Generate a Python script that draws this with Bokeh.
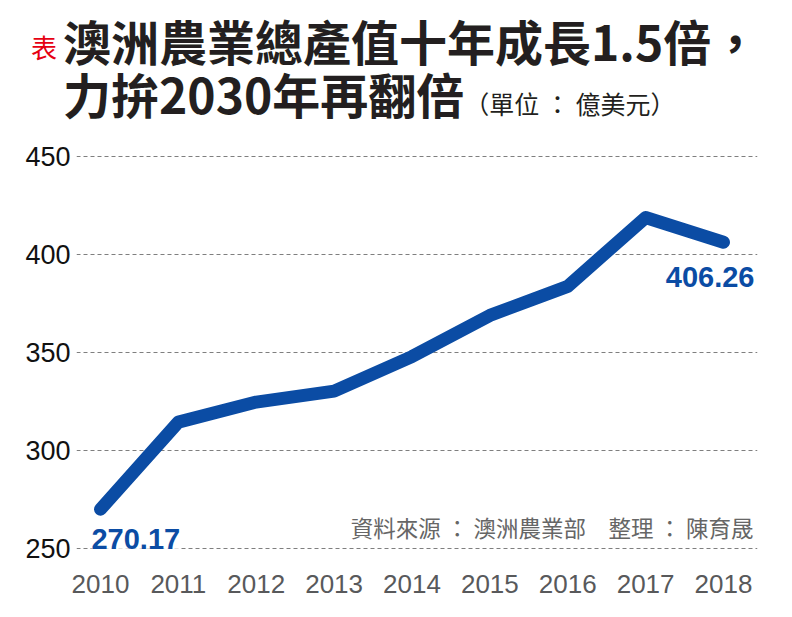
from bokeh.plotting import figure
from bokeh.models import Range1d, FixedTicker, Label, Div
from bokeh.layouts import column
from bokeh.embed import file_html
from bokeh.resources import INLINE

years = [2010, 2011, 2012, 2013, 2014, 2015, 2016, 2017, 2018]
values = [270.17, 314.6, 324.8, 330.4, 348.0, 369.0, 383.8, 418.9, 406.26]
y_ticks = [250, 300, 350, 400, 450]

title_line1 = "澳洲農業總產值十年成長1.5倍，"
title_line2 = "力拚2030年再翻倍"
unit_text = "（單位 ： 億美元）"
tag_text = "表"
source_text = "資料來源 ： 澳洲農業部　整理 ： 陳育晟"

BLUE = "#0b4ca4"
LATIN = "'Liberation Sans', Arial, sans-serif"
CJK = "'Noto Sans CJK TC', 'Noto Sans CJK SC', sans-serif"
W, H_TOP, H_FIG = 792, 122, 485

head_html = f"""
<div style="position:relative;width:{W}px;height:{H_TOP}px;font-family:{CJK};white-space:nowrap;">
  <span style="position:absolute;left:26px;top:29px;font-size:26px;line-height:26px;color:#e60012;">{tag_text}</span>
  <div style="position:absolute;left:58px;top:8.5px;font-size:48px;line-height:53px;font-weight:700;color:#231f20;">{title_line1}<br>{title_line2}<span style="font-size:25px;font-weight:400;">{unit_text}</span></div>
</div>
"""
head = Div(text=head_html, width=W, height=H_TOP)

p = figure(width=W, height=H_FIG, output_backend="svg", toolbar_location=None,
           x_range=Range1d(2009.692, 2018.437), y_range=Range1d(244.03, 458.16),
           min_border_left=76, min_border_right=35, min_border_top=8, min_border_bottom=57)
p.outline_line_color = None
p.background_fill_color = "white"

p.xaxis.ticker = FixedTicker(ticks=years)
p.yaxis.ticker = FixedTicker(ticks=y_ticks)
for ax in (p.xaxis, p.yaxis):
    ax.axis_line_color = None
    ax.major_tick_line_color = None
    ax.minor_tick_line_color = None
    ax.major_label_text_font = LATIN
p.xaxis.major_label_text_font_size = "26px"
p.xaxis.major_label_text_color = "#58595b"
p.xaxis.major_label_standoff = 8
p.yaxis.major_label_text_font_size = "27px"
p.yaxis.major_label_text_color = "#111111"
p.yaxis.major_label_standoff = 0

p.xgrid.grid_line_color = None
p.ygrid.ticker = FixedTicker(ticks=y_ticks)
p.ygrid.grid_line_color = "#7f7f7f"
p.ygrid.grid_line_dash = "4 3"
p.ygrid.grid_line_width = 1

p.line(years, values, line_width=13, line_color=BLUE, line_cap="round", line_join="round")

p.add_layout(Label(x=years[0], y=values[0], text=f"{values[0]:.2f}", x_offset=-9, y_offset=-29.5,
                   text_align="left", text_baseline="alphabetic", text_font=LATIN,
                   text_font_style="bold", text_font_size="29px", text_color=BLUE,
                   background_fill_color="white"))
p.add_layout(Label(x=years[-1], y=values[-1], text=f"{values[-1]:.2f}", x_offset=31, y_offset=-34.7,
                   text_align="right", text_baseline="alphabetic", text_font=LATIN,
                   text_font_style="bold", text_font_size="29px", text_color=BLUE))

# screen units are relative to the frame's bottom-left corner
p.add_layout(Label(x=677, y=34, x_units="screen", y_units="screen", text=source_text,
                   text_baseline="middle", text_align="right", text_font=CJK,
                   text_font_size="22.5px", text_color="#666666"))

layout = column(head, p, spacing=0)
open("out.html", "w").write(file_html(layout, INLINE))
